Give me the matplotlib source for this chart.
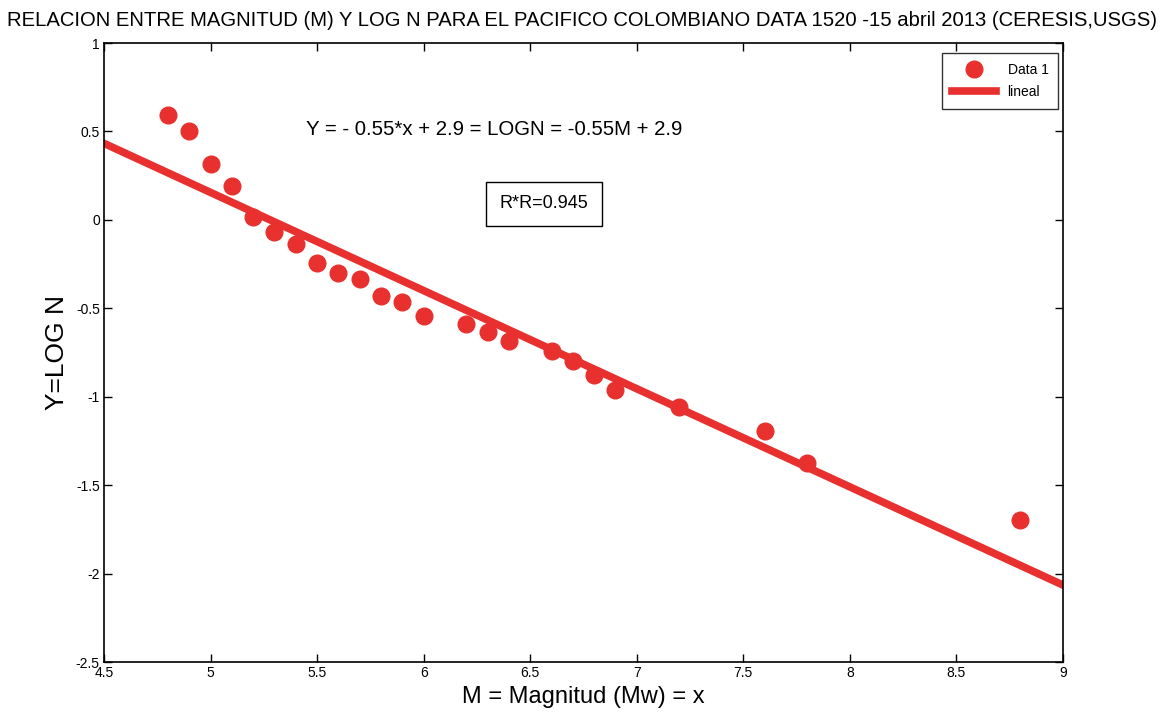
import matplotlib
matplotlib.use("Agg")
import matplotlib.pyplot as plt
from matplotlib import font_manager
import numpy as np

magnitude = [4.8, 4.9, 5.0, 5.1, 5.2, 5.3, 5.4, 5.5, 5.6, 5.7, 5.8, 5.9, 6.0,
             6.2, 6.3, 6.4, 6.6, 6.7, 6.8, 6.9, 7.2, 7.6, 7.8, 8.8]
log_n = [0.593, 0.503, 0.316, 0.192, 0.016, -0.068, -0.136, -0.244, -0.300, -0.334,
         -0.430, -0.464, -0.543, -0.588, -0.634, -0.685, -0.741, -0.798, -0.877,
         -0.962, -1.058, -1.193, -1.374, -1.697]
fit_slope = -0.555
fit_intercept = 2.93
fit_range = [4.5, 9.0]
xticks = [4.5, 5, 5.5, 6, 6.5, 7, 7.5, 8, 8.5, 9]
yticks = [-2.5, -2, -1.5, -1, -0.5, 0, 0.5, 1]

names = {f.name for f in font_manager.fontManager.ttflist}
fam = [f for f in ['Liberation Sans Narrow', 'Liberation Sans', 'DejaVu Sans'] if f in names]
plt.rcParams['font.family'] = fam

red = '#e8302e'
fig = plt.figure(figsize=(11.64, 7.24), dpi=100)
ax = fig.add_axes([104/1164, 1-662/724, (1063-104)/1164, (662-43)/724])

xf = np.array(fit_range)
ax.plot(magnitude, log_n, 'o', color=red, markersize=12, label='Data 1', zorder=3)
ax.plot(xf, fit_slope*xf + fit_intercept, '-', color=red, linewidth=5.5, label='lineal', zorder=2)

ax.set_xlim(4.5, 9)
ax.set_ylim(-2.5, 1)
ax.set_xticks(xticks)
ax.set_yticks(yticks)
ax.set_xticklabels([f'{t:g}' for t in xticks])
ax.set_yticklabels([f'{t:g}' for t in yticks])
ax.tick_params(direction='in', length=6, width=1, labelsize=10, top=True, right=True, pad=3)
for s in ax.spines.values():
    s.set_linewidth(1.2)

ax.set_xlabel('M = Magnitud (Mw) = x', fontsize=17, labelpad=4)
ax.set_ylabel('Y=LOG N', fontsize=19)
ax.yaxis.set_label_coords(-0.036, 0.5)
fig.text(0.5, 1-20/724, 'RELACION ENTRE MAGNITUD (M) Y LOG N PARA EL PACIFICO COLOMBIANO DATA 1520 -15 abril 2013 (CERESIS,USGS)',
         ha='center', va='center', fontsize=14.6)

ax.text(4.5 + (494-104)/213.1, 1 - (130-43)/176.9, 'Y = - 0.55*x + 2.9 = LOGN = -0.55M + 2.9',
        ha='center', va='center', fontsize=14.7)
ax.text(4.5 + (544-104)/213.1, 1 - (204-43)/176.9, 'R*R=0.945', ha='center', va='center', fontsize=13,
        bbox=dict(boxstyle='square,pad=0.75', facecolor='white', edgecolor='black', linewidth=1))

leg = ax.legend(loc='upper right', bbox_to_anchor=(0.995, 0.984), borderaxespad=0, fontsize=10, frameon=True,
                fancybox=False, edgecolor='black', handlelength=3.2, markerfirst=True, borderpad=0.7,
                labelspacing=0.6)
leg.get_frame().set_linewidth(1)

fig.savefig('out.png', dpi=100)
